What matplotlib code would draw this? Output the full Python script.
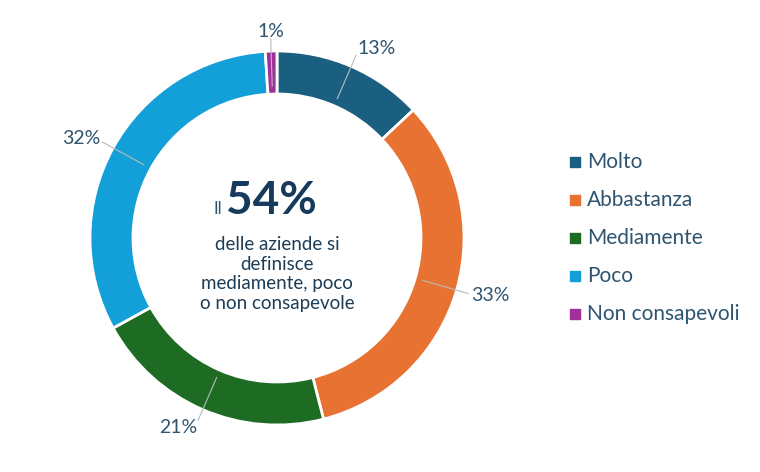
import numpy as np
import matplotlib.pyplot as plt

categories = ["Molto", "Abbastanza", "Mediamente", "Poco", "Non consapevoli"]
values = [13, 33, 21, 32, 1]
colors = ["#1a5e80", "#e87231", "#1e6b24", "#13a0d8", "#a0309a"]

plt.rcParams["font.family"] = "Lato"
txt = "#2e5470"

fig = plt.figure(figsize=(7.6, 4.72), dpi=100)
ax = fig.add_axes([0, 0, 1, 1])

cx, cy, R = 277, 234, 187
wedges, _ = ax.pie(values, colors=colors, startangle=90, counterclock=False,
                   center=(cx, cy), radius=R, frame=True,
                   wedgeprops=dict(width=43, edgecolor="white", linewidth=2))
ax.set_xlim(0, 760)
ax.set_ylim(0, 472)
ax.set_aspect("equal")
ax.axis("off")

for w, v in zip(wedges, values):
    a = np.deg2rad((w.theta1 + w.theta2) / 2)
    x0, y0 = cx + (R - 35) * np.cos(a), cy + (R - 35) * np.sin(a)
    x1, y1 = cx + (R + 12) * np.cos(a), cy + (R + 12) * np.sin(a)
    ax.plot([x0, x1], [y0, y1], color="#bbbbbb", lw=0.8)
    ha = "left" if np.cos(a) > 0.2 else ("right" if np.cos(a) < -0.2 else "center")
    ax.text(x1 + 3 * np.cos(a), y1 + 8 * np.sin(a), f"{v}%", ha=ha, va="center",
            fontsize=14, color=txt)

ax.text(222, 258, "Il", fontsize=12, color=txt, ha="right", va="baseline")
ax.text(226, 258, "54%", fontsize=33, fontweight="bold", color="#163a5c", va="baseline")
ax.text(277, 198, "delle aziende si\ndefinisce\nmediamente, poco\no non consapevole",
        ha="center", va="center", fontsize=13.5, color="#1d3c55", linespacing=1.2)

for i, (c, col) in enumerate(zip(categories, colors)):
    y = 310 - i * 38
    ax.scatter(575, y, marker="s", s=45, color=col)
    ax.text(587, y, c, va="center", fontsize=15, color=txt)

fig.savefig("out.png", dpi=100)
